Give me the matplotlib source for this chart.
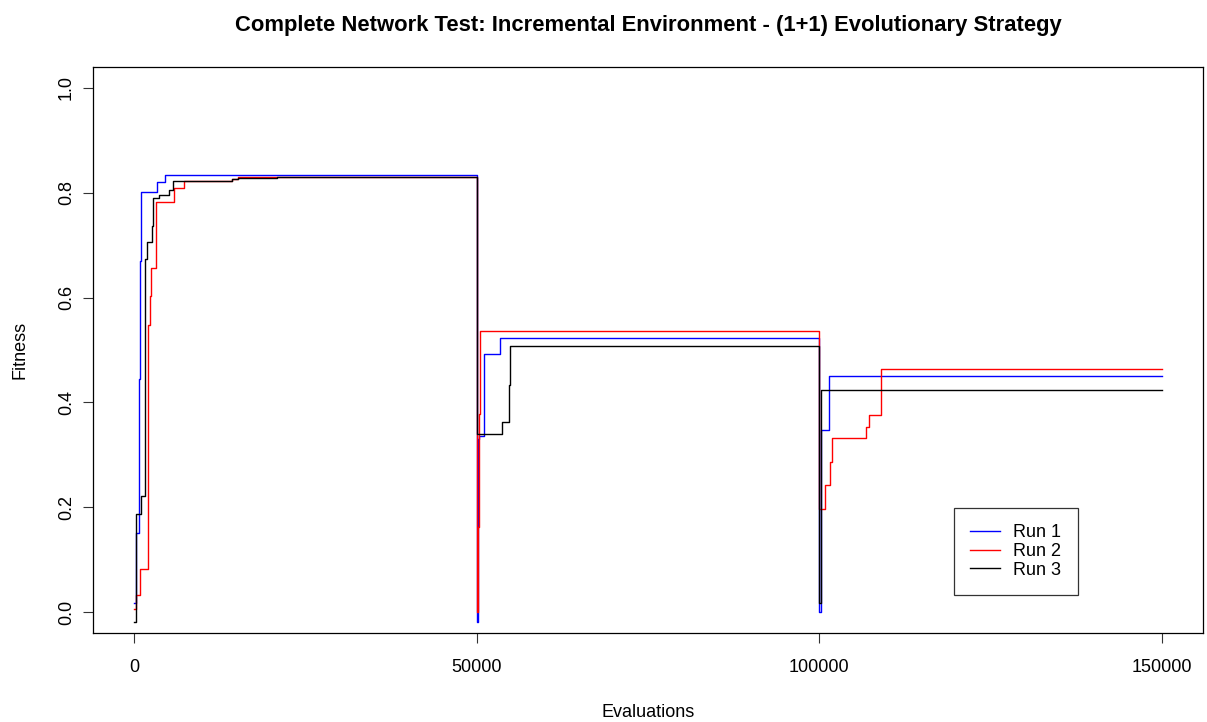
import matplotlib
matplotlib.use("Agg")
import matplotlib.pyplot as plt

plt.rcParams['font.family'] = ['Liberation Sans', 'DejaVu Sans']

# step points (evaluation, fitness), drawn as steps-post
run1_x = [0, 300, 780, 920, 1070, 3350, 4560,
          50000, 50150, 50300, 51020, 53400,
          100000, 100300, 101400, 150000]
run1_y = [0.017, 0.15, 0.444, 0.67, 0.802, 0.82, 0.834,
          -0.02, 0.33, 0.335, 0.493, 0.523,
          0.0, 0.347, 0.451, 0.451]

run2_x = [0, 300, 825, 2085, 2375, 2520, 3250, 5770, 7230, 14260, 15180,
          50000, 50150, 50300, 50500,
          100000, 100800, 101500, 101900, 106800, 107200, 109000, 150000]
run2_y = [0.005, 0.032, 0.082, 0.547, 0.603, 0.657, 0.783, 0.81, 0.823, 0.827, 0.831,
          0.0, 0.163, 0.377, 0.536,
          0.197, 0.243, 0.287, 0.333, 0.353, 0.375, 0.464, 0.464]

run3_x = [0, 250, 1070, 1550, 1900, 2570, 2710, 3590, 5140, 5630, 14260, 15180, 20800,
          50000, 53740, 54700, 54850,
          100000, 100200, 150000]
run3_y = [-0.02, 0.187, 0.222, 0.673, 0.707, 0.737, 0.79, 0.795, 0.806, 0.823, 0.826, 0.828, 0.830,
          0.34, 0.362, 0.434, 0.507,
          0.017, 0.424, 0.424]

fig = plt.figure(figsize=(12.07, 7.22), dpi=100)
ax = fig.add_axes([0.077, 0.1233, 0.9197, 0.7839])

ax.plot(run1_x, run1_y, drawstyle='steps-post', color='blue', lw=1.0, label='Run 1')
ax.plot(run2_x, run2_y, drawstyle='steps-post', color='red', lw=1.0, label='Run 2')
ax.plot(run3_x, run3_y, drawstyle='steps-post', color='black', lw=1.0, label='Run 3')

ax.set_xlim(-6000, 156000)
ax.set_ylim(-0.04, 1.04)
ax.set_xticks([0, 50000, 100000, 150000])
ax.set_xticklabels(['0', '50000', '100000', '150000'])
ax.set_yticks([0.0, 0.2, 0.4, 0.6, 0.8, 1.0])
ax.set_yticklabels(['0.0', '0.2', '0.4', '0.6', '0.8', '1.0'], rotation=90, va='center')
ax.tick_params(axis='both', labelsize=13, length=7, width=0.8, color='#333333')
ax.tick_params(axis='x', pad=12)
ax.tick_params(axis='y', pad=6)
for s in ax.spines.values():
    s.set_linewidth(0.9)

ax.set_title('Complete Network Test: Incremental Environment - (1+1) Evolutionary Strategy',
             fontsize=15.8, fontweight='bold', pad=26)
ax.set_xlabel('Evaluations', fontsize=13, labelpad=20)
ax.set_ylabel('Fitness', fontsize=13, labelpad=21)

leg = ax.legend(loc='lower right', bbox_to_anchor=(0.887, 0.067), fontsize=13,
                frameon=True, fancybox=False, edgecolor='black', handlelength=1.65,
                borderpad=0.9, labelspacing=0.1, handletextpad=0.75, borderaxespad=0)
leg.get_frame().set_linewidth(0.9)

fig.savefig('out.png', dpi=100)
